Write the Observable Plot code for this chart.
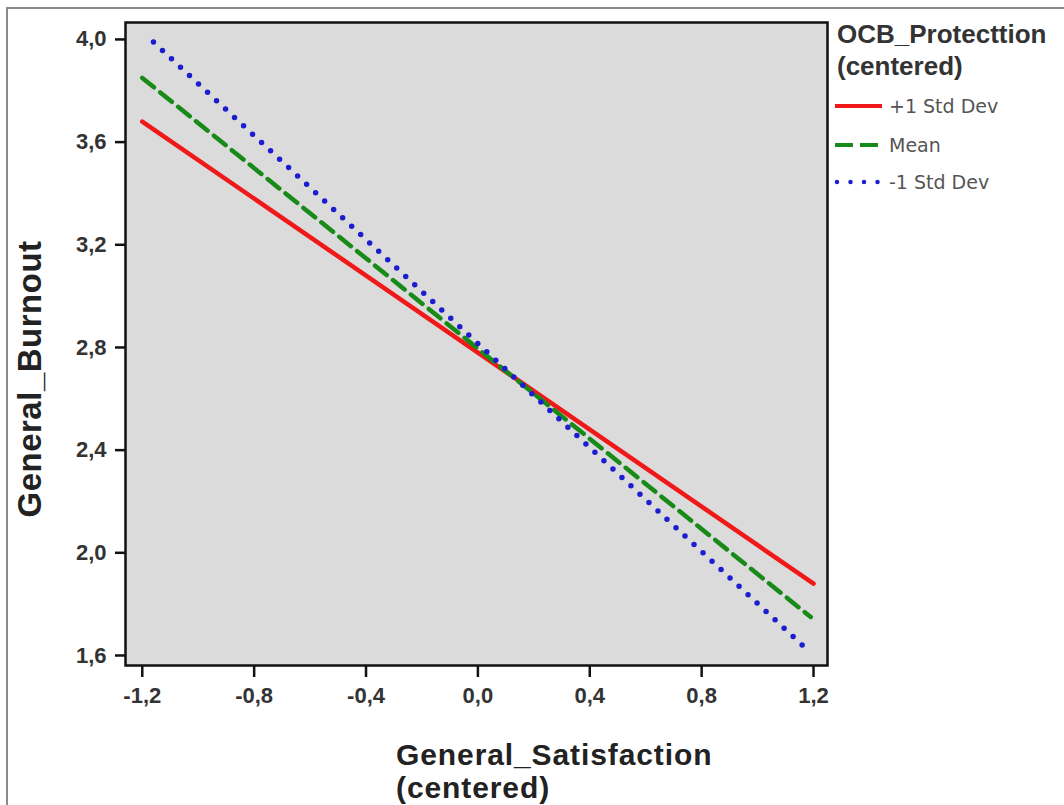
<!DOCTYPE html>
<html><head><meta charset="utf-8">
<script src="https://cdn.jsdelivr.net/npm/d3@7"></script>
<script src="https://cdn.jsdelivr.net/npm/@observablehq/plot@0.6"></script>
<style>
html,body{margin:0;padding:0;background:#fff;}
#wrap{position:relative;width:1064px;height:805px;overflow:hidden;}
#wrap svg{position:absolute;left:0;top:0;}
</style></head><body><div id="wrap"></div>
<script>
const series = ["+1 Std Dev", "Mean", "-1 Std Dev"];
const xStart = [-1.2, -1.2, -1.16];
const xEnd = [1.2, 1.19, 1.18];
const yStart = [3.68, 3.85, 3.99];
const yEnd = [1.88, 1.75, 1.62];
const xTicks = [-1.2, -0.8, -0.4, 0, 0.4, 0.8, 1.2];
const yTicks = [1.6, 2.0, 2.4, 2.8, 3.2, 3.6, 4.0];
const legendTitle = ["OCB_Protecttion", "(centered)"];
const xLabel = ["General_Satisfaction", "(centered)"];
const yLabel = "General_Burnout";
const colors = ["#f01818", "#178a17", "#1c1cd0"];

const rows = series.flatMap((s, i) => [{s, x: xStart[i], y: yStart[i]}, {s, x: xEnd[i], y: yEnd[i]}]);
const fmt = d => d.toFixed(1).replace(".", ",");
const styles = [
  {strokeWidth: 4.5, strokeLinecap: "round"},
  {strokeWidth: 4.5, strokeDasharray: "15,8"},
  {strokeWidth: 5.5, strokeDasharray: "0,12.3", strokeLinecap: "round"}
];

const chart = Plot.plot({
  width: 1064, height: 805,
  marginLeft: 125, marginTop: 22, marginRight: 237, marginBottom: 140,
  x: {domain: [-1.26, 1.25]},
  y: {domain: [1.561, 4.066]},
  style: {fontFamily: "'Liberation Sans', Arial, sans-serif", fontWeight: "bold", fontSize: "22px", background: "transparent"},
  marks: [
    Plot.frame({fill: "#dbdbdb"}),
    ...series.map((s, i) => Plot.line(rows.filter(r => r.s === s), {x: "x", y: "y", stroke: colors[i], ...styles[i]})),
    Plot.frame({stroke: "#111", strokeWidth: 2.5}),
    Plot.axisX({ticks: xTicks, tickFormat: fmt, tickSize: 12, tickPadding: 10, stroke: "#111", strokeWidth: 2.5, fill: "#333", label: null, fontSize: 22}),
    Plot.axisY({ticks: yTicks, tickFormat: fmt, tickSize: 10, tickPadding: 9, stroke: "#111", strokeWidth: 2.5, fill: "#333", label: null, fontSize: 22})
  ]
});
document.getElementById("wrap").appendChild(chart);

// overlay: axis titles, legend, border
const ov = d3.select("#wrap").append("svg").attr("width", 1064).attr("height", 805);
ov.append("path").attr("d", "M7,805V8H1064").attr("fill", "none").attr("stroke", "#8a8a8a").attr("stroke-width", 2);

const lab = {"font-family": "'Liberation Sans', Arial, sans-serif", "font-weight": "bold", "fill": "#222"};
xLabel.forEach((t, i) => {
  const tx = ov.append("text").attr("font-size", 30).attr("letter-spacing", 0.9)
    .attr("x", 396).attr("y", 765 + i * 33).text(t);
  Object.entries(lab).forEach(([k, v]) => tx.attr(k, v));
});

const ty = ov.append("text").attr("font-size", 33).attr("letter-spacing", 0.5).attr("text-anchor", "middle")
  .attr("transform", "translate(41,379) rotate(-90)").text(yLabel);
Object.entries(lab).forEach(([k, v]) => ty.attr(k, v));

const lt = ov.append("text").attr("font-size", 26).attr("font-family", "'Liberation Sans', Arial, sans-serif")
  .attr("font-weight", "bold").attr("fill", "#333");
legendTitle.forEach((t, i) => lt.append("tspan").attr("x", 837).attr("y", 43 + i * 32).text(t));

const legY = [106, 145, 182];
const legDash = [null, "18,7", "0,13.5"];
series.forEach((s, i) => {
  ov.append("line").attr("x1", i === 2 ? 837 : 835).attr("x2", i === 2 ? 878 : 882)
    .attr("y1", legY[i]).attr("y2", legY[i])
    .attr("stroke", colors[i]).attr("stroke-width", i === 2 ? 4.5 : 4)
    .attr("stroke-dasharray", legDash[i]).attr("stroke-linecap", i === 2 ? "round" : "butt");
  ov.append("text").attr("x", 889).attr("y", legY[i] + 7)
    .attr("font-family", "'DejaVu Sans', sans-serif").attr("font-size", 19).attr("fill", "#555").text(s);
});
</script></body></html>
